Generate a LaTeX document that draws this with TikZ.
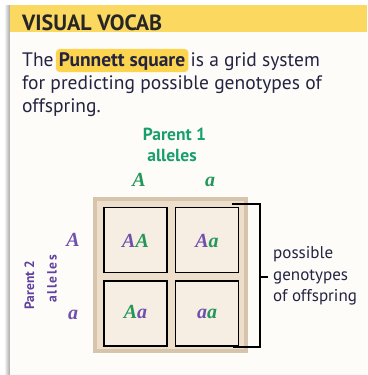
\documentclass[tikz,border=0pt]{standalone}
\usepackage{fontspec}
\setmainfont{PT Sans}
\newfontfamily\gfont{Liberation Serif}
\usetikzlibrary{backgrounds}
\definecolor{hdr}{RGB}{251,216,96}
\definecolor{panel}{RGB}{253,252,248}
\definecolor{ink}{RGB}{36,36,66}
\definecolor{hl}{RGB}{252,212,78}
\definecolor{pgreen}{RGB}{25,158,112}
\definecolor{ggreen}{RGB}{35,150,90}
\definecolor{gpurple}{RGB}{112,80,172}
\definecolor{ppurple}{RGB}{96,64,160}
\definecolor{tanD}{RGB}{214,196,172}
\definecolor{tanL}{RGB}{238,223,203}
\definecolor{cellc}{RGB}{246,238,226}
\tikzset{
  body/.style={inner sep=0pt, anchor=base west, text=ink, font=\fontsize{19.5}{23}\selectfont},
  bodyb/.style={body, font=\bfseries\fontsize{19.5}{23}\selectfont},
  p1lab/.style={inner sep=0pt, anchor=base, text=pgreen, font=\bfseries\fontsize{17.5}{18}\selectfont},
  p2lab/.style={inner sep=0pt, text=ppurple, font=\bfseries\fontsize{13.5}{14}\selectfont},
  allele/.style={inner sep=0pt, anchor=base, font=\gfont\bfseries\itshape\fontsize{20}{20}\selectfont},
  cellbox/.style={draw=black, line width=1.3pt, fill=cellc, minimum width=63pt, minimum height=65pt, inner sep=0pt},
  bracket/.style={draw=black, line width=1.4pt},
  note/.style={inner sep=0pt, anchor=west, align=left, text=ink, font=\fontsize{17}{21.5}\selectfont}
}
\begin{document}
\begin{tikzpicture}[x=1pt,y=-1pt]
\useasboundingbox (0,0) rectangle (367,375);
\begin{scope}[on background layer]
  \fill[white] (0,0) rectangle (367,375);
  \shade[left color=white, right color=black!35] (4,5) rectangle (10,375);
  \fill[panel] (10,5) rectangle (367,375);
  \fill[hdr] (10,5) rectangle (367,32);
\end{scope}
\node[inner sep=0pt, anchor=base west, text=black!85, font=\bfseries\fontsize{22}{22}\selectfont] (title) at (22,30) {VISUAL VOCAB};
% body text
\node[body] (l1a) at (22,66) {The};
\node[bodyb] (l1b) at ([xshift=5pt]l1a.base east) {Punnett square};
\node[body] (l1c) at ([xshift=5pt]l1b.base east) {is a grid system};
\node[body] (l2) at (22,89) {for predicting possible genotypes of};
\node[body] (l3) at (22,112) {offspring.};
\begin{scope}[on background layer]
  \fill[hl, rounded corners=4pt] ([xshift=-3pt,yshift=3pt]l1b.north west) rectangle ([xshift=3pt,yshift=-2pt]l1b.south east);
\end{scope}
% parent 1
\node[p1lab] (p1) at (174.5,140) {Parent 1};
\node[p1lab] (p1b) at (172,161) {alleles};
\node[allele, text=ggreen] (pA) at (139,186) {A};
\node[allele, text=ggreen] (pa) at (210,186) {a};
% square
\fill[tanD] (93,197) rectangle (248,353);
\fill[tanL] (97,201) rectangle (244,349);
\node[cellbox] (c11) at (135.5,240) {};
\node[cellbox] (c12) at (207,240) {};
\node[cellbox] (c21) at (135.5,313.5) {};
\node[cellbox] (c22) at (207,313.5) {};
\node[allele] (g11) at ([yshift=-7pt]c11.center) {\textcolor{gpurple}{A}\textcolor{ggreen}{A}};
\node[allele] (g12) at ([yshift=-7pt]c12.center) {\textcolor{gpurple}{A}\textcolor{ggreen}{a}};
\node[allele] (g21) at ([yshift=-5pt]c21.center) {\textcolor{ggreen}{A}\textcolor{gpurple}{a}};
\node[allele] (g22) at ([yshift=-5pt]c22.center) {\textcolor{gpurple}{a}\textcolor{ggreen}{a}};
% parent 2
\node[allele, text=gpurple] (qA) at (73,246) {A};
\node[allele, text=gpurple] (qa) at (73,319) {a};
\node[p2lab, rotate=90] (p2) at (29.5,285) {Parent 2};
\node[p2lab, rotate=90] (p2b) at (52,279) {\addfontfeature{LetterSpace=12}alleles};
% bracket
\coordinate (bt) at (232,204);
\coordinate (btr) at (260,204);
\coordinate (bbr) at (260,347);
\coordinate (bb) at (233,347);
\coordinate (tk) at (260,277);
\coordinate (tke) at (268,277);
\node[note] (pg) at (273,276) {possible\\genotypes\\of offspring};
\draw[bracket] (bt) -- (btr) -- (bbr) -- (bb);
\draw[bracket] (tk) -- (tke);
\end{tikzpicture}
\end{document}
